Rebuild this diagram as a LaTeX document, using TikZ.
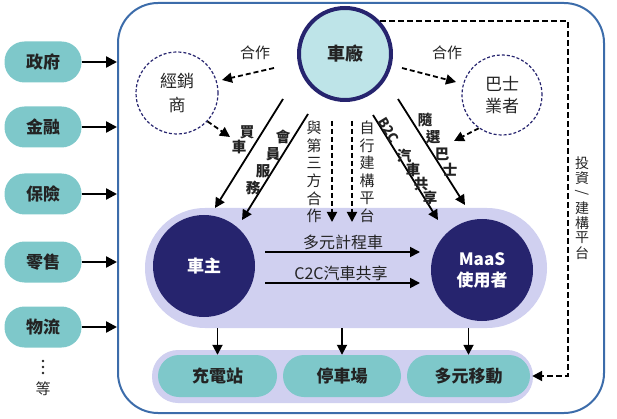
\documentclass[tikz,border=0pt]{standalone}
\usepackage{fontspec}
\setmainfont{Noto Sans CJK TC}
\usetikzlibrary{arrows.meta,calc}
\definecolor{pillc}{RGB}{126,200,202}
\definecolor{carfill}{RGB}{190,228,232}
\definecolor{navy}{RGB}{38,36,110}
\definecolor{lav}{RGB}{208,208,240}
\definecolor{outerc}{RGB}{60,108,170}
\definecolor{txt}{RGB}{35,35,35}
\begin{document}
\begin{tikzpicture}[x=1pt,y=-1pt,
  pill/.style={fill=pillc, rounded corners=20pt, minimum width=77pt, minimum height=41pt, inner sep=0pt, text=txt, font=\fontsize{17}{20}\selectfont\bfseries},
  bpill/.style={pill, rounded corners=21pt, minimum height=42pt},
  arr/.style={draw=black, line width=2.4pt, -{Triangle[length=11pt,width=11pt]}},
  sarr/.style={draw=black, line width=1.8pt, -{Triangle[length=10pt,width=10pt]}},
  darr/.style={draw=black, line width=1.8pt, dash pattern=on 5pt off 3pt, -{Triangle[length=10pt,width=10pt]}},
  lbl/.style={inner sep=0pt, text=txt, font=\fontsize{15}{17}\selectfont},
  slbl/.style={inner sep=0pt, text=txt, font=\fontsize{14.5}{16}\selectfont\bfseries},
  dcirc/.style={circle, draw=navy, line width=1.2pt, dash pattern=on 3pt off 2pt, inner sep=0pt, align=center, text=txt},
  fcirc/.style={circle, fill=navy, inner sep=0pt, minimum size=102pt, align=center, text=white, font=\fontsize{17}{21}\selectfont\bfseries},
]
\useasboundingbox (0,0) rectangle (617,419);
% outer frame
\node[draw=outerc, line width=2pt, rounded corners=40pt, minimum width=486pt, minimum height=410pt] (outer) at (361,208) {};
% left pills
\node[pill] (gov) at (43,62) {政府};
\node[pill] (fin) at (43,127) {金融};
\node[pill] (ins) at (43,194) {保險};
\node[pill] (ret) at (43,262) {零售};
\node[pill] (logi) at (43,327) {物流};
\foreach \n in {gov,fin,ins,ret,logi}
  \draw[arr] (\n.east) -- (\n.east -| outer.west);
\foreach \yy in {361,367,373} \fill[txt] (43,\yy) circle (1.3pt);
\node[lbl, font=\fontsize{15}{17}\selectfont] (etc) at (43,389) {等};
% lavender areas
\node[fill=lav, rounded corners=60pt, minimum width=402pt, minimum height=120pt] (mid) at (346,268) {};
\node[fill=lav, rounded corners=26pt, minimum width=381pt, minimum height=53pt] (band) at (342.5,376.5) {};
% bottom pills
\node[bpill, minimum width=119pt] (charge) at (217.5,376) {充電站};
\node[bpill, minimum width=118pt] (park) at (342,376) {停車場};
\node[bpill, minimum width=123pt] (multi) at (468.5,376) {多元移動};
% circles
\node[circle, draw=navy, line width=4pt, fill=carfill, minimum size=92pt, inner sep=0pt, text=txt, font=\fontsize{18}{20}\selectfont\bfseries] (car) at (345,54) {車廠};
\node[dcirc, minimum size=82pt, font=\fontsize{17}{24}\selectfont] (dealer) at (177,93) {經銷\\商};
\node[dcirc, minimum size=80pt, font=\fontsize{17}{22}\selectfont] (bus) at (502,95) {巴士\\業者};
\node[fcirc] (owner) at (204,266) {車主};
\node[fcirc] (maas) at (482,270) {MaaS\\使用者};
% cooperation arrows
\node[lbl] (coopL) at (255,53) {合作};
\node[lbl] (coopR) at (447,53) {合作};
\coordinate (cl1) at (274,68); \coordinate (cl2) at (222,80);
\coordinate (cr1) at (402,68); \coordinate (cr2) at (456,82);
\draw[darr] (cl1) -- (cl2);
\draw[darr] (cr1) -- (cr2);
\coordinate (dl) at (230,137);
\coordinate (bl) at (454,141);
\draw[darr] (dealer.-43) -- (dl);
\draw[darr] (bus.235) -- (bl);
% car arrows
\coordinate (a1s) at (283,99);  \coordinate (a1e) at (215,208);
\coordinate (a2s) at (308,114); \coordinate (a2e) at (242,220);
\coordinate (a3s) at (332,121); \coordinate (a3e) at (332,222);
\coordinate (a4s) at (352,121); \coordinate (a4e) at (352,222);
\coordinate (a5s) at (373,115); \coordinate (a5e) at (438,220);
\coordinate (a6s) at (398,99);  \coordinate (a6e) at (465,205);
\draw[sarr] (a1s) -- (a1e);
\draw[sarr] (a2s) -- (a2e);
\draw[darr] (a3s) -- (a3e);
\draw[darr] (a4s) -- (a4e);
\draw[sarr] (a5s) -- (a5e);
\draw[sarr] (a6s) -- (a6e);
% labels along arrows
\node[slbl] at (247,132) {買};
\node[slbl] at (239,147) {車};
\node[slbl] at (283,137) {會};
\node[slbl] at (273,154) {員};
\node[slbl] at (263,171) {服};
\node[slbl] at (253,188) {務};
\foreach \c [count=\i] in {與,第,三,方,合,作}
  \node[lbl] at (314,{110.4+17.6*\i}) {\c};
\foreach \c [count=\i] in {自,行,建,構,平,台}
  \node[lbl] at (367,{110.4+17.6*\i}) {\c};
\node[slbl, font=\fontsize{13.5}{15}\selectfont\bfseries, rotate=-58.6] at (389,130) {B2C};
\node[slbl] at (404,156) {汽};
\node[slbl] at (413,170) {車};
\node[slbl] at (421,184) {共};
\node[slbl] at (430,198) {享};
\node[slbl] at (425,120) {隨};
\node[slbl] at (433,137) {選};
\node[slbl] at (442,154) {巴};
\node[slbl] at (450,170) {士};
% horizontal arrows
\coordinate (h1s) at (265,252); \coordinate (h1e) at (420,252);
\coordinate (h2s) at (265,283); \coordinate (h2e) at (420,283);
\draw[sarr] (h1s) -- (h1e);
\draw[sarr] (h2s) -- (h2e);
\node[lbl, font=\fontsize{16}{18}\selectfont] at (343,242) {多元計程車};
\node[lbl, font=\fontsize{16}{18}\selectfont] at (341,273) {C2C汽車共享};
% down arrows
\draw[sarr] (mid.south -| charge.north) -- (charge.north);
\draw[sarr] (mid.south -| park.north) -- (park.north);
\draw[sarr] (mid.south -| multi.north) -- (multi.north);
% investment line
\coordinate (inv) at (568,22);
\draw[darr, line width=2pt, dash pattern=on 6pt off 3pt, shorten >=2pt] (car.43) -- (car.43 -| inv) |- (multi.east);
\foreach \c [count=\i] in {投,資,{\rotatebox{90}{/}},建,構,平,台}
  \node[lbl, font=\fontsize{14}{16}\selectfont] at (582,{148+15*\i}) {\c};
\end{tikzpicture}
\end{document}
